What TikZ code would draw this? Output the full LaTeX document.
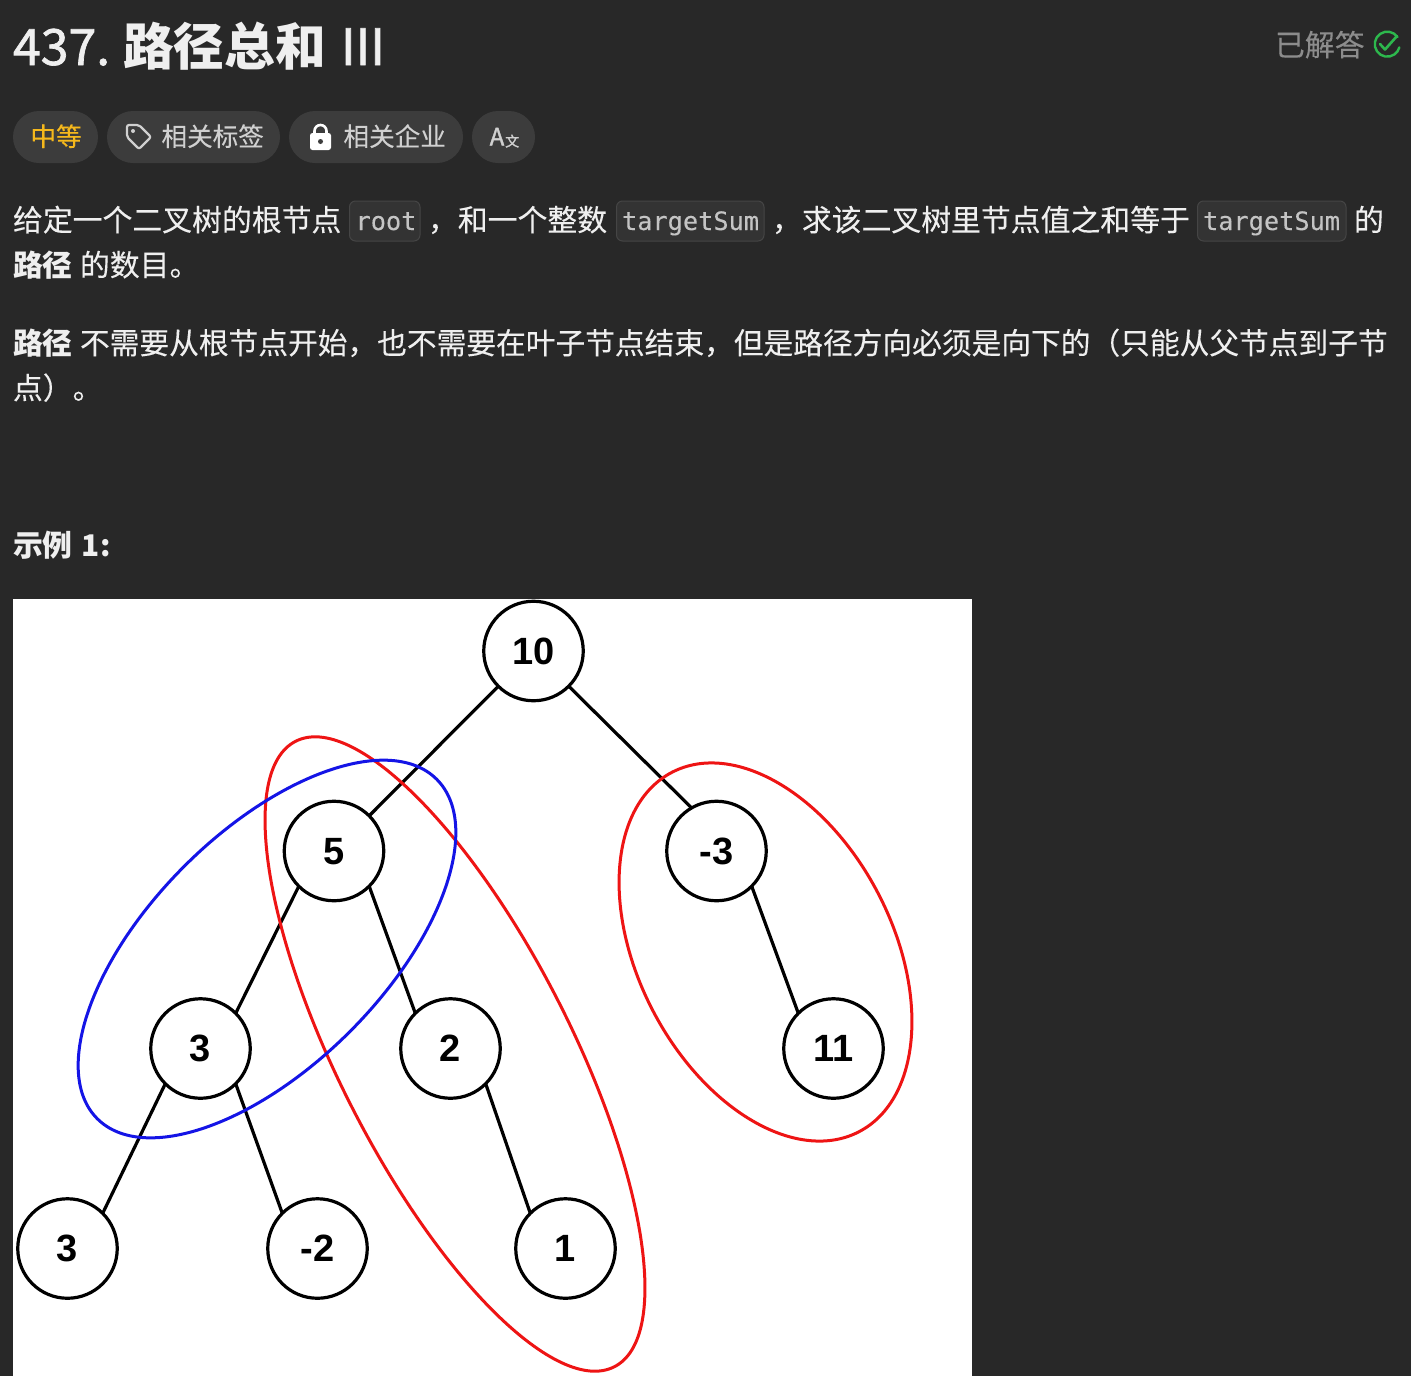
\documentclass[tikz,border=0pt]{standalone}
\usepackage{fontspec}
\setmainfont{Noto Sans CJK SC}
\newfontface\semif[FakeBold=0.18]{Noto Sans CJK SC}
\newfontface\medf[FakeBold=1.4]{Noto Sans CJK SC}
\newfontfamily\monof[FakeBold=0.15]{DejaVu Sans Mono}
\newfontfamily\numf{Liberation Sans}
\usetikzlibrary{shapes.geometric}
\definecolor{bgc}{HTML}{282828}
\definecolor{chipc}{HTML}{3C3C3C}
\definecolor{chiptext}{HTML}{D0D0D0}
\definecolor{bodytext}{HTML}{EFEFEF}
\definecolor{codefill}{HTML}{333333}
\definecolor{codeedge}{HTML}{454545}
\definecolor{codetext}{HTML}{C4C4C4}
\definecolor{medc}{HTML}{F5B81C}
\definecolor{doneg}{HTML}{2DB84D}
\definecolor{doneText}{HTML}{8C8C8C}
\definecolor{bluering}{HTML}{1414E6}
\definecolor{redring}{HTML}{EE1414}
\tikzset{
  x=1pt,y=1pt,
  txt/.style={anchor=base west,inner sep=0pt,outer sep=0pt,text=bodytext,font=\fontsize{29.85}{30}\selectfont\semif},
  btxt/.style={txt,font=\fontsize{29.85}{30}\selectfont\bfseries},
  chip/.style={fill=chipc,rounded corners=26pt},
  chiptxt/.style={anchor=base west,inner sep=0pt,outer sep=0pt,text=chiptext,font=\fontsize{25.6}{26}\selectfont\semif},
  codebox/.style={fill=codefill,draw=codeedge,line width=1pt,rounded corners=6pt},
  codetxt/.style={anchor=base west,inner sep=0pt,outer sep=0pt,text=codetext,font=\fontsize{25.3}{26}\selectfont\monof},
  tnode/.style={circle,draw=black,fill=white,line width=3.2pt,minimum size=99.5pt,inner sep=0pt,outer sep=0pt,text=black,text depth=0pt,font=\fontsize{38}{38}\selectfont\numf\bfseries},
  tedge/.style={draw=black,line width=3.2pt},
  ring/.style={line width=3pt},
}
\begin{document}
\begin{tikzpicture}
\useasboundingbox (0,0) rectangle (1411,-1376);
\fill[bgc] (0,0) rectangle (1411,-1376);
% title
\node[txt,font=\fontsize{50}{50}\selectfont\medf] (t1) at (13,-65) {437.};
\node[btxt,font=\fontsize{50.7}{50}\selectfont\bfseries] (t2) at (123,-65) {路径总和};
\node[txt,font=\fontsize{50}{50}\selectfont\medf] (t3) at (341,-65) {III};
\node[txt,text=doneText] (done) at (1275,-56) {已解答};
\draw[doneg,line width=2.4pt,line cap=round] (1397.5,-37) arc (35:345:12.5);
\draw[doneg,line width=2.6pt,line cap=round,line join=round] (1380,-44) -- (1385,-49.5) -- (1397,-36);
% chips
\fill[chip] (13,-111) rectangle (98,-163);
\fill[chip] (107,-111) rectangle (280,-163);
\fill[chip] (289,-111) rectangle (463,-163);
\fill[chip] (472,-111) rectangle (535,-163);
\node[chiptxt,text=medc] (c1) at (30.5,-146) {中等};
\node[chiptxt] (c2) at (161.5,-146) {相关标签};
\node[chiptxt] (c3) at (343.5,-146) {相关企业};
\draw[chiptext,line width=2.2pt,line join=round,rounded corners=2pt] (127,-125) -- (139,-125) -- (151,-137) -- (139,-149) -- (127,-137) -- cycle;
\fill[chiptext] (133,-131) circle (2pt);
\fill[white,rounded corners=2.5pt] (310,-133) rectangle (331,-150);
\draw[white,line width=2.6pt] (314.5,-134) -- (314.5,-131) arc (180:0:6) -- (326.5,-134);
\fill[chipc] (320.5,-141.5) circle (2.5pt);
\node[anchor=base west,inner sep=0pt,text=chiptext,font=\fontsize{24}{24}\selectfont\medf] (axa) at (489.5,-145.5) {A};
\node[anchor=base west,inner sep=0pt,text=chiptext,font=\fontsize{14}{14}\selectfont\medf] (axb) at (505,-146.5) {文};
% paragraph 1
\node[txt] (p1a) at (13,-231) {给定一个二叉树的根节点};
\draw[codebox] (349.5,-201) rectangle (420,-241);
\node[codetxt] (cd1) at (355.5,-230) {root};
\node[txt] (p1b) at (428,-231) {，和一个整数};
\draw[codebox] (616.5,-201) rectangle (764,-241);
\node[codetxt] (cd2) at (622,-230) {targetSum};
\node[txt] (p1c) at (772,-231) {，求该二叉树里节点值之和等于};
\draw[codebox] (1197.5,-201) rectangle (1346,-241);
\node[codetxt] (cd3) at (1203,-230) {targetSum};
\node[txt] (p1d) at (1354,-231) {的};
\node[btxt] (p2a) at (13,-276) {路径};
\node[txt] (p2b) at (80,-276) {的数目。};
% paragraph 2
\node[btxt] (p3a) at (13,-354) {路径};
\node[txt,font=\fontsize{29.72}{30}\selectfont\semif] (p3b) at (80,-354) {不需要从根节点开始，也不需要在叶子节点结束，但是路径方向必须是向下的（只能从父节点到子节};
\node[txt] (p4) at (13,-399) {点）。};
% example
\node[btxt] (ex) at (13,-556) {示例\kern2pt\ 1\kern1pt:};
% image
\fill[white] (13,-599) rectangle (972,-1376);
\node[tnode] (n10) at (533.5,-651) {10};
\node[tnode] (n5) at (334,-851) {5};
\node[tnode] (nm3) at (716.5,-851) {-3};
\node[tnode] (n3a) at (200.5,-1048.5) {3};
\node[tnode] (n2) at (450.5,-1048.5) {2};
\node[tnode] (n11) at (833.5,-1048.5) {11};
\node[tnode] (n3b) at (67.5,-1248.5) {3};
\node[tnode] (nm2) at (317.5,-1248.5) {-2};
\node[tnode] (n1) at (565.5,-1248.5) {1};
\draw[tedge] (n10.225) -- (n5.45);
\draw[tedge] (n10.-45) -- (nm3.120);
\draw[tedge] (n5.225) -- (n3a.45);
\draw[tedge] (n5.-45) -- (n2.135);
\draw[tedge] (nm3.-45) -- (n11.135);
\draw[tedge] (n3a.225) -- (n3b.45);
\draw[tedge] (n3a.-45) -- (nm2.135);
\draw[tedge] (n2.-45) -- (n1.135);
\draw[ring,redring] (455,-1054) ellipse [x radius=351,y radius=116,rotate=-63];
\draw[ring,redring] (765.5,-952) ellipse [x radius=202.6,y radius=127,rotate=-62.5];
\draw[ring,bluering] (267,-949) ellipse [x radius=240,y radius=117,rotate=45];
\end{tikzpicture}
\end{document}
